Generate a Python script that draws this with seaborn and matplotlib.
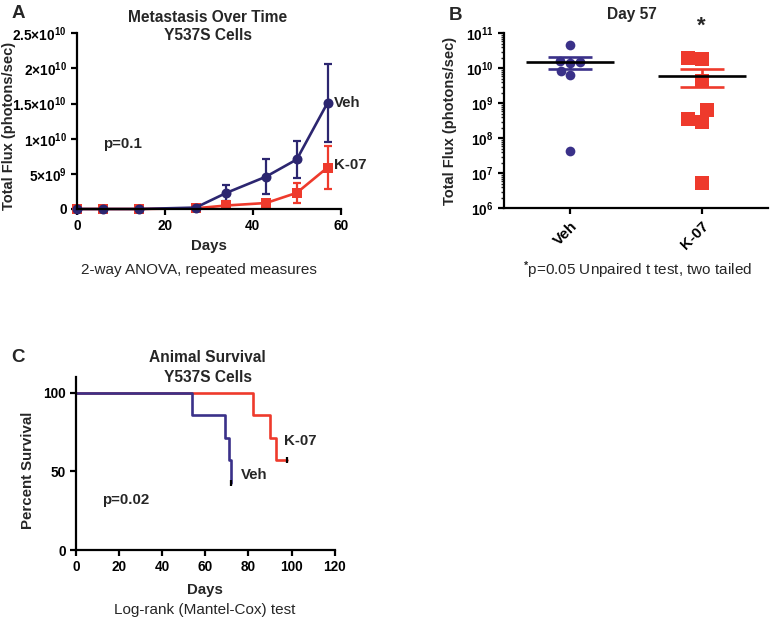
import numpy as np
import pandas as pd
import matplotlib
matplotlib.use("Agg")
import matplotlib.pyplot as plt
import seaborn as sns
from matplotlib.ticker import LogLocator, NullFormatter

# --- Panel A: metastasis over time (mean +/- SEM) ---
days = [0, 6, 14, 27, 34, 43, 50, 57]
veh_mean = [0, 0, 0, 0.2e9, 2.3e9, 4.6e9, 7.05e9, 15.1e9]
veh_sem = [0, 0, 0, 0.05e9, 1.1e9, 2.5e9, 2.6e9, 5.5e9]
k07_mean = [0, 0, 0, 0.1e9, 0.5e9, 0.85e9, 2.3e9, 5.9e9]
k07_sem = [0, 0, 0, 0, 0.15e9, 0.2e9, 1.4e9, 3.1e9]
a_xticks = [0, 20, 40, 60]
a_yticks = [0, 5e9, 1e10, 1.5e10, 2e10, 2.5e10]
a_yticklabels = ["0", r"$5{\times}10^{9}$", r"$1{\times}10^{10}$",
                 r"$1.5{\times}10^{10}$", r"$2{\times}10^{10}$", r"$2.5{\times}10^{10}$"]

# --- Panel B: day 57 flux per animal ---
groups = ["Veh", "K-07"]
veh_day57 = [4.54e10, 1.55e10, 1.39e10, 1.67e10, 8.3e9, 6.5e9, 4.4e7]
k07_day57 = [1.85e10, 1.93e10, 4.2e9, 6.5e8, 3.5e8, 2.9e8, 5.2e6]
b_yticks = [1e6, 1e7, 1e8, 1e9, 1e10, 1e11]
b_yticklabels = [r"$10^{6}$", r"$10^{7}$", r"$10^{8}$", r"$10^{9}$", r"$10^{10}$", r"$10^{11}$"]

# --- Panel C: survival ---
veh_t = [0, 54, 69, 71, 72]
veh_surv = [100, 85.7, 71.4, 57.1, 42.9]
k07_t = [0, 82, 90, 93, 98]
k07_surv = [100, 85.7, 71.4, 57.1, 57.1]
c_xticks = [0, 20, 40, 60, 80, 100, 120]
c_yticks = [0, 50, 100]

NAVY = "#2c2670"
NAVY2 = "#3a3189"
RED = "#ee3a2c"

sns.set_style("ticks")
plt.rcParams["font.family"] = ["Liberation Sans", "DejaVu Sans"]
plt.rcParams["font.weight"] = "bold"
plt.rcParams["mathtext.fontset"] = "custom"
plt.rcParams["mathtext.rm"] = "Liberation Sans:bold"
plt.rcParams["mathtext.it"] = "Liberation Sans:italic:bold"
plt.rcParams["mathtext.bf"] = "Liberation Sans:bold"
plt.rcParams["axes.linewidth"] = 1.6
plt.rcParams["axes.edgecolor"] = "black"

W, H = 772, 625
fig = plt.figure(figsize=(W / 100, H / 100), dpi=100)


def px_axes(left, top, right, bottom):
    return fig.add_axes([left / W, 1 - bottom / H, (right - left) / W, (bottom - top) / H])


def style_axes(ax):
    sns.despine(ax=ax)
    ax.tick_params(direction="out", length=4, width=1.6, labelsize=9.8, colors="black")
    for lab in ax.get_xticklabels() + ax.get_yticklabels():
        lab.set_fontweight("bold")


def ftext(x, y, s, **kw):
    fig.text(x / W, 1 - y / H, s, **kw)


# ---------------- Panel A ----------------
axA = px_axes(77, 33.3, 340.7, 209)
df_a = pd.DataFrame({
    "day": days + days,
    "flux": k07_mean + veh_mean,
    "group": ["K-07"] * len(days) + ["Veh"] * len(days),
})
axA.errorbar(days, k07_mean, yerr=k07_sem, fmt="none", ecolor=RED, elinewidth=1.6,
             capsize=3, capthick=1.6, clip_on=False)
axA.errorbar(days, veh_mean, yerr=veh_sem, fmt="none", ecolor=NAVY, elinewidth=1.6,
             capsize=3, capthick=1.6, clip_on=False)
sns.lineplot(data=df_a, x="day", y="flux", hue="group", style="group",
             hue_order=["K-07", "Veh"], style_order=["K-07", "Veh"],
             palette={"K-07": RED, "Veh": NAVY}, markers={"K-07": "s", "Veh": "o"},
             dashes=False, markersize=7.2, markeredgewidth=0, linewidth=1.9,
             legend=False, ax=axA, clip_on=False)
axA.set_xlim(0, 60)
axA.set_ylim(0, 2.5e10)
axA.set_xticks(a_xticks)
axA.set_yticks(a_yticks, labels=a_yticklabels)
axA.set_xlabel("Days", fontsize=10.8, fontweight="bold", labelpad=4)
axA.set_ylabel("Total Flux (photons/sec)", fontsize=10.5, fontweight="bold")
axA.yaxis.set_label_coords(-0.232, 0.47)
style_axes(axA)
axA.text(6, 9.2e9, "p=0.1", fontsize=10.8, fontweight="bold", va="center")
axA.text(58.4, veh_mean[-1], "Veh", fontsize=10.8, fontweight="bold", va="center")
axA.text(58.4, k07_mean[-1] + 0.3e9, "K-07", fontsize=10.8, fontweight="bold", va="center")

ftext(18, 14, "A", fontsize=13.5, fontweight="bold", ha="center", va="center")
ftext(208, 17, "Metastasis Over Time", fontsize=11.2, fontweight="bold", ha="center", va="center")
ftext(208, 35, "Y537S Cells", fontsize=11.2, fontweight="bold", ha="center", va="center")
ftext(199, 270, "2-way ANOVA, repeated measures", fontsize=11, fontweight="normal",
      ha="center", va="center")

# ---------------- Panel B ----------------
axB = px_axes(504, 33.3, 768, 208.3)
df_b = pd.DataFrame({
    "group": ["Veh"] * len(veh_day57) + ["K-07"] * len(k07_day57),
    "flux": veh_day57 + k07_day57,
})
sns.swarmplot(data=df_b[df_b["group"] == "Veh"], x="group", y="flux", order=groups,
              color=NAVY2, marker="o", size=7, linewidth=0, log_scale=True, ax=axB)
sns.swarmplot(data=df_b[df_b["group"] == "K-07"], x="group", y="flux", order=groups,
              color=RED, marker="s", size=9.5, linewidth=0, log_scale=True, ax=axB)
for i, (vals, col) in enumerate([(veh_day57, NAVY2), (k07_day57, RED)]):
    m = np.mean(vals)
    sem = np.std(vals, ddof=1) / np.sqrt(len(vals))
    axB.errorbar([i], [m], yerr=[[sem], [sem]], fmt="none", ecolor=col, elinewidth=1.9,
                 capsize=15.5, capthick=1.9, zorder=4)
    axB.hlines(m, i - 0.33, i + 0.33, color="black", linewidth=1.9, zorder=5)
axB.set_xlim(-0.5, 1.5)
axB.set_ylim(1e6, 1e11)
axB.set_yticks(b_yticks, labels=b_yticklabels)
axB.yaxis.set_minor_locator(LogLocator(base=10, subs=np.arange(2, 10), numticks=20))
axB.yaxis.set_minor_formatter(NullFormatter())
axB.set_xticks([0, 1], labels=groups)
axB.set_xlabel("")
axB.set_ylabel("Total Flux (photons/sec)", fontsize=10.5, fontweight="bold")
axB.yaxis.set_label_coords(-0.178, 0.5)
style_axes(axB)
axB.tick_params(axis="y", which="minor", length=2.2, width=1)
for lab in axB.get_xticklabels():
    lab.set_rotation(45)
    lab.set_ha("right")
    lab.set_rotation_mode("anchor")
    lab.set_fontsize(11)

ftext(456, 15, "B", fontsize=13.5, fontweight="bold", ha="center", va="center")
ftext(632, 15, "Day 57", fontsize=11.2, fontweight="bold", ha="center", va="center")
ftext(701, 26, "*", fontsize=16, fontweight="bold", ha="center", va="center")
ftext(638, 270, "$^{*}$p=0.05 Unpaired t test, two tailed", fontsize=11, fontweight="normal",
      ha="center", va="center")

# ---------------- Panel C ----------------
axC = px_axes(76, 377, 334.6, 550)
sns.lineplot(x=k07_t, y=k07_surv, drawstyle="steps-post", color=RED, linewidth=1.9,
             estimator=None, sort=False, ax=axC)
sns.lineplot(x=veh_t, y=veh_surv, drawstyle="steps-post", color=NAVY2, linewidth=1.9,
             estimator=None, sort=False, ax=axC)
axC.plot([veh_t[-1], k07_t[-1]], [veh_surv[-1], k07_surv[-1]], linestyle="none",
         marker="|", markersize=4, markeredgewidth=1.6, color="black")
axC.set_xlim(0, 120)
axC.set_ylim(0, 110)
axC.set_xticks(c_xticks)
axC.set_yticks(c_yticks)
axC.set_xlabel("Days", fontsize=10.8, fontweight="bold", labelpad=6)
axC.set_ylabel("Percent Survival", fontsize=10.8, fontweight="bold")
axC.yaxis.set_label_coords(-0.158, 0.46)
style_axes(axC)
axC.text(12, 32, "p=0.02", fontsize=10.8, fontweight="bold", va="center")
axC.text(76.5, 47.5, "Veh", fontsize=10.8, fontweight="bold", va="center")
axC.text(96.5, 69, "K-07", fontsize=10.8, fontweight="bold", va="center")

ftext(18.5, 358, "C", fontsize=13.5, fontweight="bold", ha="center", va="center")
ftext(207.5, 358, "Animal Survival", fontsize=11.2, fontweight="bold", ha="center", va="center")
ftext(207.5, 377, "Y537S Cells", fontsize=11.2, fontweight="bold", ha="center", va="center")
ftext(205, 610, "Log-rank (Mantel-Cox) test", fontsize=11, fontweight="normal",
      ha="center", va="center")

fig.savefig("out.png", dpi=100, facecolor="white")
